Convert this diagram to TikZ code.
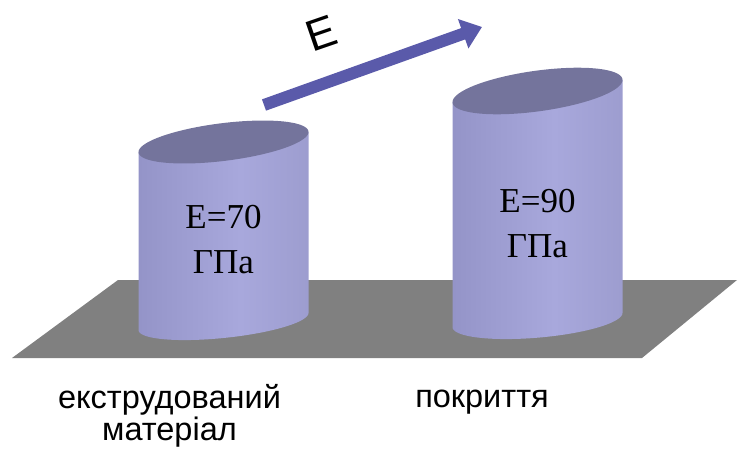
\documentclass[tikz,border=0pt]{standalone}
\usepackage{fontspec}
\setmainfont{Liberation Serif}
\newfontfamily\labelfont{Liberation Sans}
\usetikzlibrary{arrows.meta}

\definecolor{platform}{HTML}{808080}
\definecolor{arrowblue}{HTML}{5A5AAA}
\definecolor{capface}{HTML}{74749C}
\definecolor{cylA}{HTML}{5E5E84}
\definecolor{cylB}{HTML}{7C7CAC}
\definecolor{cylC}{HTML}{9292C6}
\definecolor{cylD}{HTML}{A8A8DC}
\definecolor{cylE}{HTML}{9A9ACC}
\definecolor{cylF}{HTML}{7E7EAC}
\definecolor{cylG}{HTML}{646489}

\pgfdeclarehorizontalshading{cylbody}{100bp}{%
  color(0bp)=(cylA); color(4bp)=(cylB); color(22bp)=(cylC);
  color(55bp)=(cylD); color(80bp)=(cylE); color(95bp)=(cylF);
  color(100bp)=(cylG)}

% #1 name, #2 centre x, #3 half width, #4 top centre y, #5 top slant,
% #6 top minor radius, #7 bottom centre y, #8 bottom slant, #9 bottom minor radius
\newcommand\drawcyl[9]{%
  \path[shading=cylbody]
    ({#2-#3},{#4+#5*#3})
    -- plot[domain=180:0,samples=60]
       ({#2+#3*cos(\x)},{#7+#9*sin(\x)-#8*#3*cos(\x)})
    -- ({#2+#3},{#4-#5*#3}) -- cycle;
  \fill[capface] plot[domain=0:360,samples=90]
       ({#2+#3*cos(\x)},{#4+#6*sin(\x)-#5*#3*cos(\x)}) -- cycle;
  \coordinate (#1) at (#2,{(#4+#7)/2});
}

\tikzset{
  valtext/.style={align=center, inner sep=0pt,
    font=\fontsize{35}{45}\selectfont},
  caption/.style={anchor=base, inner sep=0pt,
    font=\labelfont\fontsize{32.5}{32}\selectfont},
  field/.style={arrowblue, line width=12pt,
    -{Triangle[length=20pt,width=30pt]}},
}

\begin{document}
\begin{tikzpicture}[x=1pt,y=-1pt]
  \useasboundingbox (0,0) rectangle (739,450);

  % grey base plate
  \fill[platform] (118,280) -- (737,280) -- (642,358) -- (12,358) -- cycle;

  % the two cylinders
  \drawcyl{cylL}{223.5}{85}{142}{0.118}{19}{321.5}{0.1}{16.5}
  \drawcyl{cylR}{537.5}{85}{91}{0.13}{20.5}{320}{0.083}{17.7}

  \node[valtext] (v70) at (223.5,240) {E=70\\ГПа};
  \node[valtext] (v90) at (537.5,224) {E=90\\ГПа};

  % modulus arrow
  \coordinate (eS) at (264,105);
  \coordinate (eT) at (482,27);
  \draw[field] (eS) -- (eT);
  \node[font=\labelfont\fontsize{44}{44}\selectfont, rotate=19, inner sep=0pt]
    (elabel) at (321,33) {E};

  % captions
  \node[caption] (ext1) at (169.5,408) {екструдований};
  \node[caption] (ext2) at (169.5,440) {матеріал};
  \node[caption] (coat) at (482,407) {покриття};
\end{tikzpicture}
\end{document}
